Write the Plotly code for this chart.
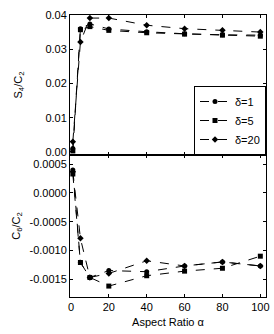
import plotly.graph_objects as go

x = [1, 5, 10, 20, 40, 60, 80, 100]
names = ["δ=1", "δ=5", "δ=20"]
symbols = ["circle", "square", "diamond"]

s4_d1 = [0.0010, 0.0361, 0.0375, 0.0360, 0.0352, 0.0346, 0.0343, 0.0342]
s4_d5 = [0.0003, 0.0358, 0.0367, 0.0356, 0.0349, 0.0345, 0.0342, 0.0339]
s4_d20 = [0.0030, 0.0322, 0.0392, 0.0392, 0.0371, 0.0361, 0.0356, 0.0351]

c6_d1 = [0.00040, -0.00121, -0.00147, -0.00135, -0.00137, -0.00127, -0.00120, -0.00127]
c6_d5 = [0.00033, -0.00121, -0.00147, -0.00162, -0.00144, -0.00136, -0.00131, -0.00110]
c6_d20 = [0.00037, -0.00079, -0.00147, -0.00140, -0.00118, -0.00127, -0.00120, -0.00127]

x_ticks = [0, 20, 40, 60, 80, 100]
top_ticks = [0.00, 0.01, 0.02, 0.03, 0.04]
top_text = ["0.00", "0.01", "0.02", "0.03", "0.04"]
bot_ticks = [0.0005, 0.0, -0.0005, -0.0010, -0.0015]
bot_text = ["0.0005", "0.0000", "-0.0005", "-0.0010", "-0.0015"]

fig = go.Figure()
top_series = [s4_d1, s4_d5, s4_d20]
bot_series = [c6_d1, c6_d5, c6_d20]
for i in range(3):
    fig.add_trace(go.Scatter(
        x=x, y=top_series[i], name=names[i], mode="lines+markers",
        line=dict(color="black", width=1, dash="dash"),
        marker=dict(symbol=symbols[i], size=5, color="black"),
        xaxis="x", yaxis="y", showlegend=True))
for i in range(3):
    fig.add_trace(go.Scatter(
        x=x, y=bot_series[i], name=names[i], mode="lines+markers",
        line=dict(color="black", width=1, dash="dash"),
        marker=dict(symbol=symbols[i], size=5, color="black"),
        xaxis="x2", yaxis="y2", showlegend=False))

font = dict(family="Liberation Sans, Arial, sans-serif", size=11, color="black")
axcommon = dict(showline=True, linecolor="black", linewidth=1, mirror="ticks",
                ticks="inside", ticklen=3, tickcolor="black", showgrid=False,
                zeroline=False, tickfont=font)

fig.update_layout(
    width=274, height=334,
    margin=dict(l=70, r=5, t=15, b=37),
    paper_bgcolor="white", plot_bgcolor="white",
    font=font,
    xaxis=dict(domain=[0, 1], anchor="y", range=[-0.5, 103], tickvals=x_ticks,
               showticklabels=False, **axcommon),
    yaxis=dict(domain=[0.5035, 1], anchor="x", range=[-0.0009, 0.0401],
               tickvals=top_ticks, ticktext=top_text,
               title=dict(text="S<sub>4</sub>/C<sub>2</sub>", font=font, standoff=20),
               **axcommon),
    xaxis2=dict(domain=[0, 1], anchor="y2", range=[-0.5, 103], tickvals=x_ticks,
                title=dict(text="Aspect Ratio α", font=font, standoff=6), **axcommon),
    yaxis2=dict(domain=[0, 0.5035], anchor="x2", range=[-0.00181, 0.00066],
                tickvals=bot_ticks, ticktext=bot_text,
                title=dict(text="C<sub>6</sub>/C<sub>2</sub>", font=font, standoff=6),
                **axcommon),
    legend=dict(x=1, y=0.5035, xanchor="right", yanchor="bottom",
                bgcolor="white", bordercolor="black", borderwidth=1,
                font=font, tracegroupgap=0, itemwidth=30),
)

fig.write_html("out.html")
